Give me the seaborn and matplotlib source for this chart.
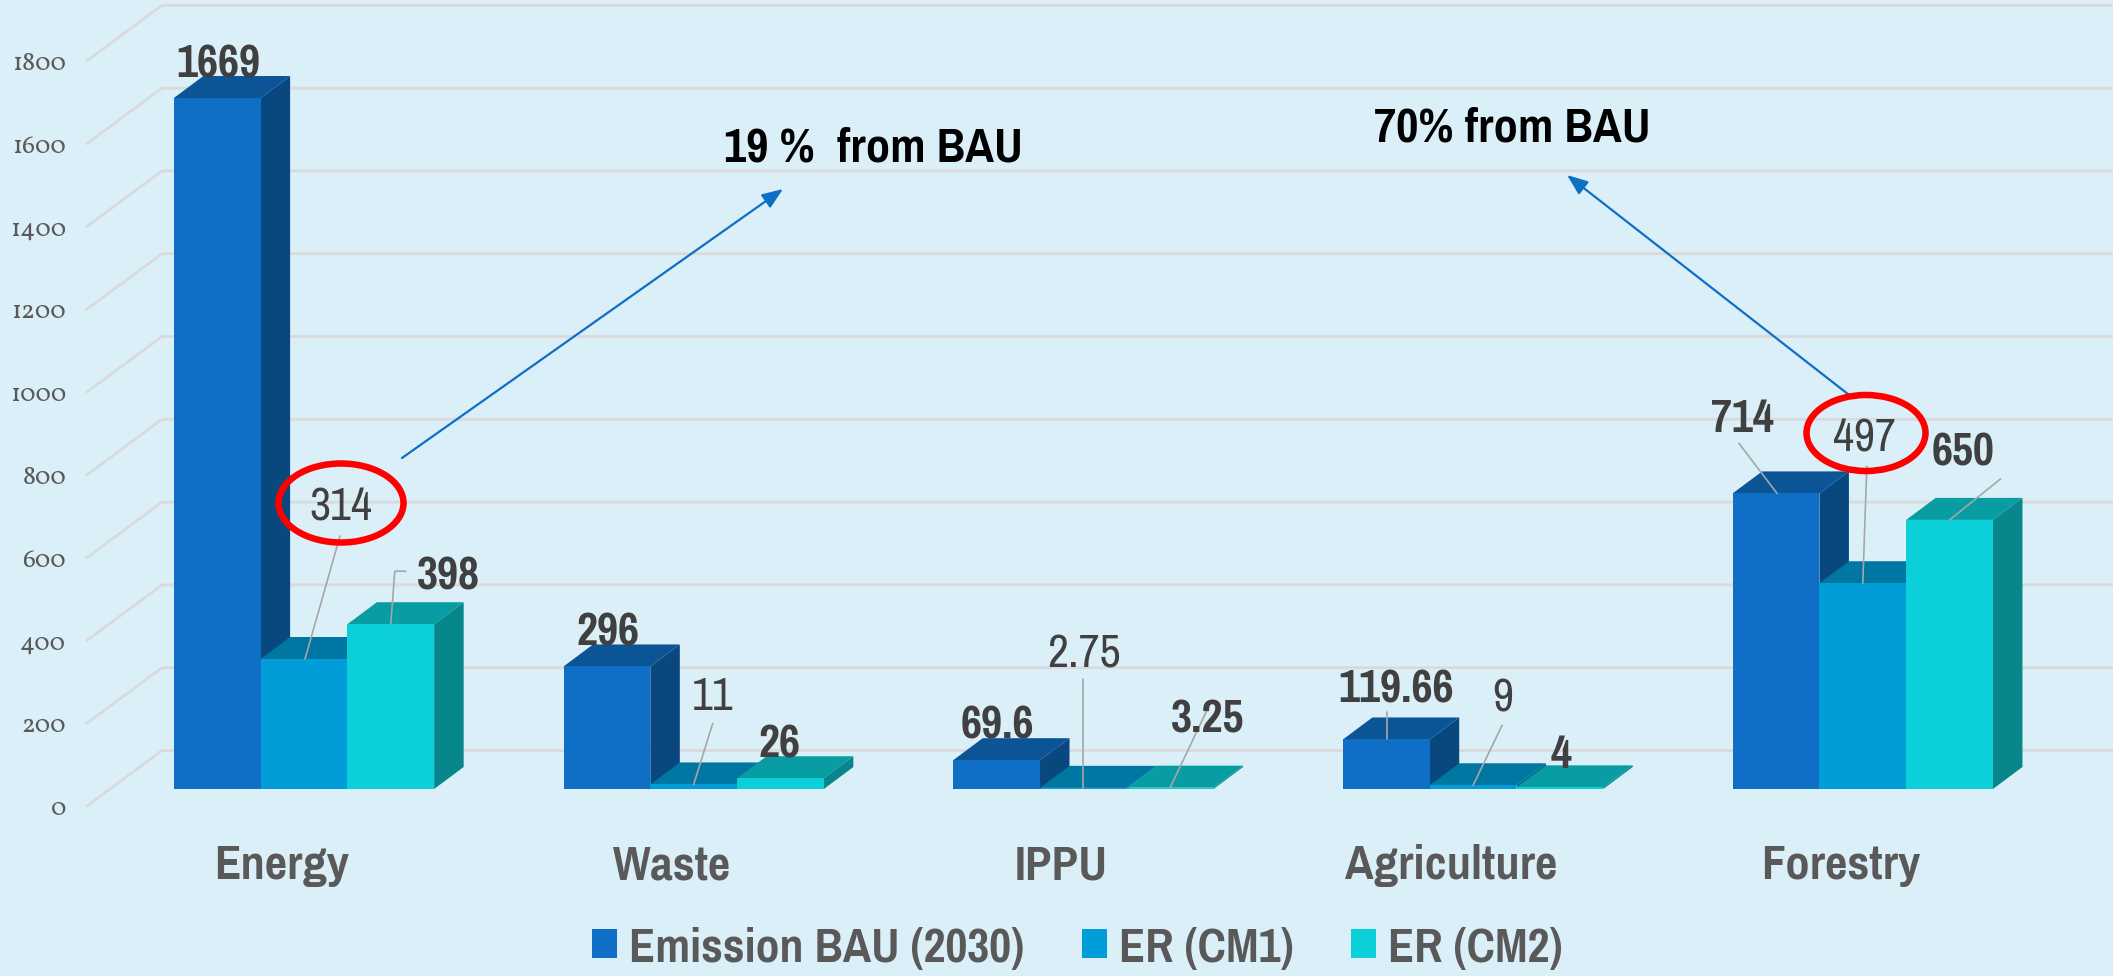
"""
plot.py

Sector emissions against reductions, drawn as a pseudo 3D grouped bar chart.
"""
import matplotlib

matplotlib.use("Agg")
import matplotlib.pyplot as plt
import pandas as pd
import seaborn as sns
from matplotlib.patches import Ellipse, Polygon
from matplotlib.transforms import Affine2D, ScaledTranslation

CATEGORIES = ["Energy", "Waste", "IPPU", "Agriculture", "Forestry"]
SERIES_NAMES = ["Emission BAU (2030)", "ER (CM1)", "ER (CM2)"]
BAU_VALUES = [1669, 296, 69.6, 119.66, 714]
CM1_VALUES = [314, 11, 2.75, 9, 497]
CM2_VALUES = [398, 26, 3.25, 4, 650]
BAU_LABELS = ["1669", "296", "69.6", "119.66", "714"]
CM1_LABELS = ["314", "11", "2.75", "9", "497"]
CM2_LABELS = ["398", "26", "3.25", "4", "650"]
Y_TICKS = [0, 200, 400, 600, 800, 1000, 1200, 1400, 1600, 1800]

# Layout, in pixels of the 2113x976 picture.
WIDTH, HEIGHT, DPI = 2113, 976, 100
AXES_LEFT, AXES_BOTTOM = 66, 825
BASELINE_Y, FIRST_GROUP_X = 789, 304
PX_PER_CATEGORY, PX_PER_UNIT = 389.7, 0.414
DEPTH_X, DEPTH_Y = 29.5, 22
WALL_X, FLOOR_X = 162, 87
WALL_DY, FLOOR_DY = 38.5, -17

FONT = ["Pragati Narrow", "Liberation Sans"]
TICK_FONT = ["Vollkorn", "Liberation Serif"]
BACKGROUND = "#dbeff8"
GRID_COLOR = "#d8dadc"
TEXT_COLOR = "#595959"
LABEL_COLOR = "#404040"
ARROW_COLOR = "#0f6fc6"
FRONT_COLORS = ["#0f6fc6", "#009dd9", "#0bd0d9"]
TOP_COLORS = ["#0b5496", "#0076a3", "#089ca3"]
SIDE_COLORS = ["#09477f", "#00668e", "#07868c"]

# Label centres and leader lines, as pixel offsets from each bar's top centre.
LABEL_OFFSETS = [
    [(1, 38), (1, 38), (1, 39), (10, 54), (-34, 78)],
    [(37, 156), (19, 91), (1, 137), (30, 91), (2, 149)],
    [(58, 52), (-1, 38), (37, 72), (1, 36), (13, 71)],
]
LEADERS = [
    [None, None, None, [(1, 0), (1, 27)], [(1, 0), (-37, 50)]],
    [[(1, 0), (36, 123)], [(0, 0), (19, 61)], [(0, 0), (0, 109)], [(0, 0), (29, 60)], [(0, 0), (4, 117)]],
    [[(0, 0), (4, 53), (15, 53)], None, [(0, 0), (38, 80)], None, [(0, 0), (51, 41)]],
]


def build_frame():
    rows = []
    for name, values in zip(SERIES_NAMES, [BAU_VALUES, CM1_VALUES, CM2_VALUES]):
        for category, value in zip(CATEGORIES, values):
            rows.append({"sector": category, "series": name, "value": value})
    return pd.DataFrame(rows)


def draw_bar_depth(ax):
    # Side and top faces sit behind the fronts, painted left to right.
    dx, dy = DEPTH_X / PX_PER_CATEGORY, DEPTH_Y / PX_PER_UNIT
    for s, container in enumerate(ax.containers):
        for c, bar in enumerate(container):
            bar.set_zorder(4)
            x0, x1, h = bar.get_x(), bar.get_x() + bar.get_width(), bar.get_height()
            order = 3 + 0.01 * (3 * c + s)
            side = [(x1, 0), (x1 + dx, dy), (x1 + dx, h + dy), (x1, h)]
            top = [(x0, h), (x0 + dx, h + dy), (x1 + dx, h + dy), (x1, h)]
            ax.add_patch(Polygon(side, fc=SIDE_COLORS[s], ec="none", zorder=order))
            ax.add_patch(Polygon(top, fc=TOP_COLORS[s], ec="none", zorder=order))


def draw_grid(ax):
    left = (FLOOR_X - FIRST_GROUP_X) / PX_PER_CATEGORY
    wall = (WALL_X - FIRST_GROUP_X) / PX_PER_CATEGORY
    right = ax.get_xlim()[1]
    wall_up, floor_down = WALL_DY / PX_PER_UNIT, FLOOR_DY / PX_PER_UNIT
    for tick in Y_TICKS:
        ax.plot([left, wall, right], [tick + floor_down, tick + wall_up, tick + wall_up],
                color=GRID_COLOR, lw=2, zorder=1, clip_on=False, solid_joinstyle="round")


def draw_labels(ax):
    labels = [BAU_LABELS, CM1_LABELS, CM2_LABELS]
    for s, container in enumerate(ax.containers):
        for c, bar in enumerate(container):
            cx, h = bar.get_x() + bar.get_width() / 2, bar.get_height()
            leader = LEADERS[s][c]
            if leader:
                ax.plot([cx + p[0] / PX_PER_CATEGORY for p in leader],
                        [h + p[1] / PX_PER_UNIT for p in leader],
                        color="#a6a6a6", lw=1.2, zorder=5)
            ax.annotate(labels[s][c], xy=(cx, h), xytext=LABEL_OFFSETS[s][c],
                        textcoords="offset pixels", ha="center", va="center_baseline",
                        fontsize=36, color=LABEL_COLOR, zorder=6,
                        fontweight="normal" if s == 1 else "bold")


def draw_callouts(ax, pix):
    for start, end in [((402, 458), (783, 189)), ((1853, 398), (1567, 175))]:
        ax.annotate("", xy=end, xytext=start, xycoords=pix, textcoords=pix, zorder=7,
                    arrowprops=dict(arrowstyle="-|>,head_length=0.9,head_width=0.35", color=ARROW_COLOR,
                                    lw=1.6, shrinkA=0, shrinkB=0, mutation_scale=14))
    for text, xy in [("19 %  from BAU", (873, 148)), ("70% from BAU", (1512, 128))]:
        ax.annotate(text, xy=xy, xycoords=pix, ha="center", va="center",
                    fontsize=38, fontweight="bold", color="black", zorder=7)
    for center, w, h in [((341, 503), 125, 79), ((1866, 433), 119, 76)]:
        ax.add_patch(Ellipse(center, w, h, transform=pix, fc="none", ec="#ff0000",
                             lw=4.7, zorder=7, clip_on=False))


def main():
    sns.set_theme(style="white")
    plt.rcParams["font.family"] = FONT

    fig = plt.figure(figsize=(WIDTH / DPI, HEIGHT / DPI), dpi=DPI, facecolor=BACKGROUND)
    ax = fig.add_axes([AXES_LEFT / WIDTH, 1 - AXES_BOTTOM / HEIGHT,
                       1 - AXES_LEFT / WIDTH, AXES_BOTTOM / HEIGHT])
    sns.barplot(data=build_frame(), x="sector", y="value", hue="series", order=CATEGORIES,
                hue_order=SERIES_NAMES, palette=FRONT_COLORS, width=260.3 / PX_PER_CATEGORY,
                gap=0, saturation=1, errorbar=None, linewidth=0, ax=ax)

    ax.set_xlim((AXES_LEFT - FIRST_GROUP_X) / PX_PER_CATEGORY, (WIDTH - FIRST_GROUP_X) / PX_PER_CATEGORY)
    ax.set_ylim((BASELINE_Y - AXES_BOTTOM) / PX_PER_UNIT, BASELINE_Y / PX_PER_UNIT)
    ax.set_facecolor("none")
    ax.set_xlabel("")
    ax.set_ylabel("")
    sns.despine(ax=ax, left=True, bottom=True)

    ax.set_yticks(Y_TICKS)
    ax.set_yticklabels([str(t) for t in Y_TICKS])
    ax.tick_params(axis="y", length=0, pad=0)
    ax.tick_params(axis="x", length=0, pad=14)
    for label in ax.get_yticklabels():
        label.set(family=TICK_FONT, fontsize=18.5, color=TEXT_COLOR)
        label.set_transform(label.get_transform() + ScaledTranslation(0, FLOOR_DY / DPI, fig.dpi_scale_trans))
    for label in ax.get_xticklabels():
        label.set(fontsize=38, fontweight="bold", color=TEXT_COLOR)
        label.set_transform(label.get_transform() + ScaledTranslation(-22 / DPI, 0, fig.dpi_scale_trans))

    pix = Affine2D().scale(1, -1).translate(0, HEIGHT)
    draw_grid(ax)
    draw_bar_depth(ax)
    draw_labels(ax)
    draw_callouts(ax, pix)

    sns.move_legend(ax, "center", bbox_to_anchor=(1077 / WIDTH, 1 - 949 / HEIGHT),
                    bbox_transform=fig.transFigure, ncol=3, title=None, frameon=False,
                    handlelength=0.48, handleheight=0.48, handletextpad=0.23,
                    columnspacing=1.11, borderpad=0, labelcolor=TEXT_COLOR,
                    prop={"weight": "bold", "size": 37.5, "family": FONT})

    fig.savefig("out.png", dpi=DPI, facecolor=BACKGROUND)


if __name__ == "__main__":
    main()
